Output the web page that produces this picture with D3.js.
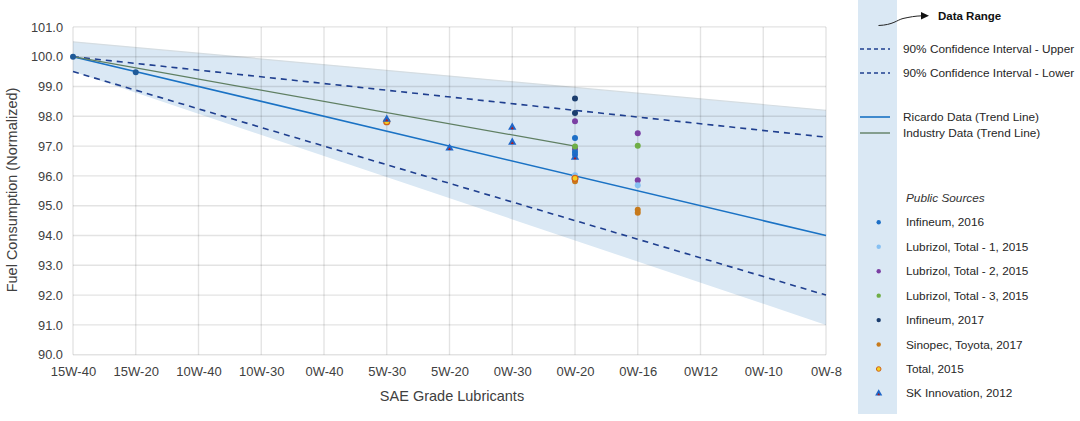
<!DOCTYPE html>
<html><head><meta charset="utf-8">
<script src="https://cdn.jsdelivr.net/npm/d3@7"></script>
<style>body{margin:0;background:#fff}svg{display:block;font-family:"Liberation Sans",Arial,sans-serif}</style>
</head><body>
<svg id="c" width="1080" height="421"></svg>
<script>
const categories = ["15W-40","15W-20","10W-40","10W-30","0W-40","5W-30","5W-20","0W-30","0W-20","0W-16","0W12","0W-10","0W-8"];
const yTicks = [90,91,92,93,94,95,96,97,98,99,100,101];

const bandUpper = [["15W-40",100.5],["0W-8",98.2]];
const bandLower = [["15W-40",99.5],["0W-8",91.0]];
const ciUpper = [["15W-40",100.0],["0W-8",97.3]];
const ciLower = [["15W-40",99.5],["0W-8",92.0]];
const ricardoTrend = [["15W-40",100.0],["0W-8",94.0]];
const ricardoPoints = [["15W-40",100.0],["15W-20",99.48]];
const industryTrend = [["15W-40",100.0],["0W-20",97.0]];

const infineum2016 = [["0W-20",97.27],["0W-20",96.8],["0W-20",96.71]];
const lubrizol1 = [["0W-20",96.02],["0W-16",95.69]];
const lubrizol2 = [["0W-20",97.83],["0W-20",96.9],["0W-16",97.43],["0W-16",95.85]];
const lubrizol3 = [["0W-20",96.99],["0W-16",97.01]];
const infineum2017 = [["0W-20",98.6],["0W-20",98.11]];
const sinopec = [["0W-20",95.82],["0W-16",94.86],["0W-16",94.76]];
const total2015 = [["5W-30",97.82],["0W-20",95.92]];
const skInnovation = [["5W-30",97.9],["5W-20",96.93],["0W-30",97.63],["0W-30",97.13],["0W-20",96.62]];

const svg = d3.select("#c");
const x = d3.scalePoint().domain(categories).range([73, 826]);
const y = d3.scaleLinear().domain([90, 101]).range([354.7, 26.9]);

// band
const bandPts = bandUpper.concat(bandLower.slice().reverse());
svg.append("path")
  .attr("d", d3.line().x(d=>x(d[0])).y(d=>y(d[1]))(bandPts) + "Z")
  .attr("fill", "#dae8f4");
svg.append("path")
  .attr("d", d3.line().x(d=>x(d[0])).y(d=>y(d[1]))(bandUpper))
  .attr("fill","none").attr("stroke","#d5dde2").attr("stroke-width",1.2);

// grid
const g = svg.append("g");
g.selectAll(".hg").data(yTicks).enter().append("line")
  .attr("x1", 73).attr("x2", 826).attr("y1", d=>y(d)).attr("y2", d=>y(d))
  .attr("stroke","rgba(0,0,0,0.11)").attr("stroke-width",1.4);
g.selectAll(".vg").data(categories).enter().append("line")
  .attr("x1", d=>x(d)).attr("x2", d=>x(d)).attr("y1", y(101)).attr("y2", y(90))
  .attr("stroke","rgba(0,0,0,0.11)").attr("stroke-width",1.4);

// axes labels
const yAxis = d3.axisLeft(y).tickValues(yTicks).tickFormat(d3.format(".1f")).tickSize(0).tickPadding(10);
const ya = svg.append("g").attr("transform","translate(73,0)").call(yAxis);
ya.select(".domain").remove();
ya.selectAll("text").attr("font-size",12.8).attr("fill","#404040").attr("font-family","Liberation Sans, Arial, sans-serif");
const xAxis = d3.axisBottom(x).tickSize(0).tickPadding(12);
const xa = svg.append("g").attr("transform","translate(0,355)").call(xAxis);
xa.select(".domain").remove();
xa.selectAll("text").attr("font-size",13).attr("fill","#404040").attr("font-family","Liberation Sans, Arial, sans-serif");

svg.append("text").attr("x", 452).attr("y", 401).attr("text-anchor","middle")
  .attr("font-size",14.5).attr("fill","#404040").text("SAE Grade Lubricants");
svg.append("text").attr("transform","translate(17,190) rotate(-90)").attr("text-anchor","middle")
  .attr("font-size",14.5).attr("fill","#404040").text("Fuel Consumption (Normalized)");

// lines
const ln = d3.line().x(d=>x(d[0])).y(d=>y(d[1]));
svg.append("path").attr("d", ln(ciUpper)).attr("fill","none").attr("stroke","#1f3f8f").attr("stroke-width",1.6).attr("stroke-dasharray","6,5");
svg.append("path").attr("d", ln(ciLower)).attr("fill","none").attr("stroke","#1f3f8f").attr("stroke-width",1.6).attr("stroke-dasharray","6,5");
svg.append("path").attr("d", ln(ricardoTrend)).attr("fill","none").attr("stroke","#1a72c4").attr("stroke-width",1.6);
svg.append("path").attr("d", ln(industryTrend)).attr("fill","none").attr("stroke","#5f7f62").attr("stroke-width",1.2);
svg.selectAll(".rp").data(ricardoPoints).enter().append("circle")
  .attr("cx", d=>x(d[0])).attr("cy", d=>y(d[1])).attr("r",3).attr("fill","#1f5a98");

// point series
function dots(data, fill, stroke, sw, r) {
  svg.append("g").selectAll("circle").data(data).enter().append("circle")
    .attr("cx", d=>x(d[0])).attr("cy", d=>y(d[1])).attr("r", r||3)
    .attr("fill", fill).attr("stroke", stroke||"none").attr("stroke-width", sw||0);
}
dots(infineum2017, "#1b3d6e");
dots(lubrizol2, "#7b3fa3");
dots(infineum2016, "#1d6fc6");
dots(lubrizol3, "#6fae46");
dots(lubrizol1, "#86c0f2");
dots(sinopec, "#c77a1c");
dots(total2015, "#f5d020", "#d0621a", 1.2, 3);
const tri = d3.symbol().type(d3.symbolTriangle);
const skg = svg.append("g").selectAll("g").data(skInnovation).enter().append("g")
  .attr("transform", d=>`translate(${x(d[0])},${y(d[1])})`);
skg.append("path").attr("d", tri.size(30)()).attr("fill","#1f66c8");
skg.append("path").attr("d", tri.size(4)()).attr("transform","translate(0,1)").attr("fill","#b01818");

// legend panel
const L = svg.append("g");
L.append("rect").attr("x",858).attr("y",0).attr("width",39).attr("height",414).attr("fill","#dae8f4");
L.append("path").attr("d","M878.5,25.5 C893,25 897,20 903,18.5 C910,17 915,16 922,15.8").attr("fill","none").attr("stroke","#222").attr("stroke-width",1);
L.append("path").attr("d","M921,12 L929,15.8 L921,19.6 Z").attr("fill","#111");
L.append("text").attr("x",938).attr("y",19.8).attr("font-size",11.5).attr("font-weight","bold").attr("fill","#111").text("Data Range");

const legLines = [
  {label:"90% Confidence Interval - Upper", y:49, stroke:"#1f3f8f", dash:"4,3", w:1.6},
  {label:"90% Confidence Interval - Lower", y:73, stroke:"#1f3f8f", dash:"4,3", w:1.6},
  {label:"Ricardo Data (Trend Line)", y:117, stroke:"#1a72c4", dash:null, w:1.6},
  {label:"Industry Data (Trend Line)", y:133, stroke:"#5f7f62", dash:null, w:1.4}
];
legLines.forEach(d=>{
  L.append("line").attr("x1",860).attr("x2",890).attr("y1",d.y).attr("y2",d.y)
    .attr("stroke",d.stroke).attr("stroke-width",d.w).attr("stroke-dasharray",d.dash);
  L.append("text").attr("x",903).attr("y",d.y+4).attr("font-size",11.8).attr("fill","#262626").text(d.label);
});
L.append("text").attr("x",906).attr("y",202).attr("font-size",11.8).attr("font-style","italic").attr("fill","#333").text("Public Sources");
const legPts = [
  {label:"Infineum, 2016", fill:"#1d6fc6"},
  {label:"Lubrizol, Total - 1, 2015", fill:"#86c0f2"},
  {label:"Lubrizol, Total - 2, 2015", fill:"#7b3fa3"},
  {label:"Lubrizol, Total - 3, 2015", fill:"#6fae46"},
  {label:"Infineum, 2017", fill:"#1b3d6e"},
  {label:"Sinopec, Toyota, 2017", fill:"#c77a1c"},
  {label:"Total, 2015", fill:"#f5d020", stroke:"#d0621a"},
  {label:"SK Innovation, 2012", tri:true}
];
legPts.forEach((d,i)=>{
  const yy = 222.3 + i*24.45;
  if (d.tri) {
    L.append("path").attr("d", tri.size(22)()).attr("transform",`translate(878.7,${yy})`).attr("fill","#1f66c8");
    L.append("path").attr("d", tri.size(3)()).attr("transform",`translate(878.7,${yy+1})`).attr("fill","#b01818");
  } else {
    L.append("circle").attr("cx",878.7).attr("cy",yy).attr("r", d.stroke?2.3:2.2).attr("fill",d.fill)
      .attr("stroke",d.stroke||"none").attr("stroke-width",d.stroke?1:0);
  }
  L.append("text").attr("x",906).attr("y",yy+4).attr("font-size",11.8).attr("fill","#262626").text(d.label);
});
</script>
</body></html>
